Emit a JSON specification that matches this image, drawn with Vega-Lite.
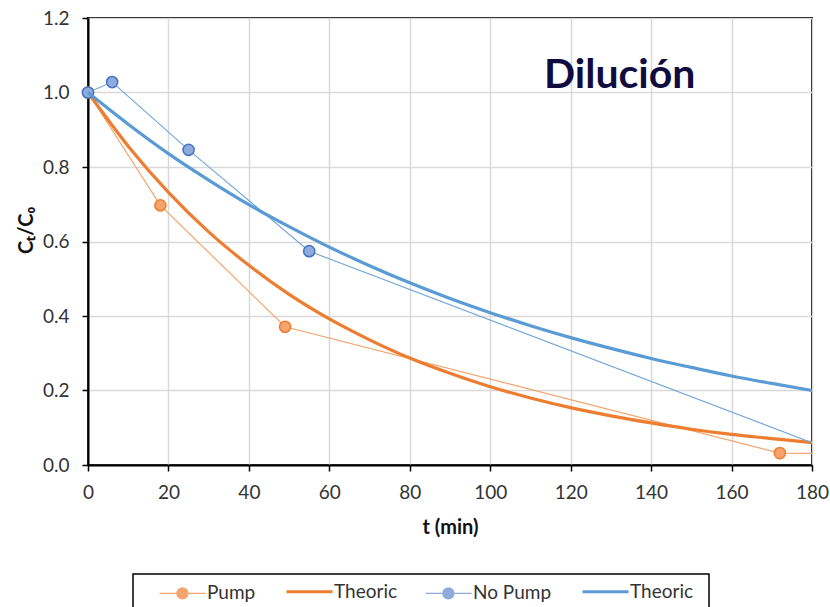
{
  "$schema": "https://vega.github.io/schema/vega-lite/v6.json",
  "width": 724,
  "height": 447,
  "autosize": {"type": "none"},
  "padding": {"left": 88, "top": 18, "right": 18, "bottom": 142},
  "background": "white",
  "title": {"text": "Dilución", "anchor": "start", "frame": "group", "dx": 456, "dy": 120, "baseline": "alphabetic", "font": "Lato", "fontSize": 41, "fontWeight": "bold", "color": "#100C40", "offset": 0},
  "config": {
    "view": {"stroke": "black", "strokeWidth": 2},
    "font": "Lato",
    "axis": {
      "domainColor": "black", "domainWidth": 2,
      "tickColor": "black", "tickWidth": 1.5, "tickSize": 6,
      "gridColor": "#D9D9D9", "gridWidth": 1.5,
      "labelFont": "Lato", "labelFontSize": 19, "labelColor": "#333333", "labelFlush": false,
      "titleFont": "Lato", "titleFontSize": 20, "titleFontWeight": "bold", "titleColor": "#111111"
    }
  },
  "datasets": {
    "exp": [
      {"series": "Pump", "t": 0, "c": 1.0},
      {"series": "Pump", "t": 18, "c": 0.697},
      {"series": "Pump", "t": 49, "c": 0.371},
      {"series": "Pump", "t": 172, "c": 0.032},
      {"series": "Pump", "t": 180, "c": 0.031},
      {"series": "No Pump", "t": 0, "c": 1.0},
      {"series": "No Pump", "t": 6, "c": 1.028},
      {"series": "No Pump", "t": 25, "c": 0.846},
      {"series": "No Pump", "t": 55, "c": 0.574},
      {"series": "No Pump", "t": 180, "c": 0.06}
    ],
    "theory": [
      {"series": "Theoric (Pump)", "t": 0, "c": 1.0},
      {"series": "Theoric (Pump)", "t": 10, "c": 0.856},
      {"series": "Theoric (Pump)", "t": 20, "c": 0.732},
      {"series": "Theoric (Pump)", "t": 30, "c": 0.626},
      {"series": "Theoric (Pump)", "t": 40, "c": 0.536},
      {"series": "Theoric (Pump)", "t": 50, "c": 0.458},
      {"series": "Theoric (Pump)", "t": 60, "c": 0.392},
      {"series": "Theoric (Pump)", "t": 70, "c": 0.336},
      {"series": "Theoric (Pump)", "t": 80, "c": 0.287},
      {"series": "Theoric (Pump)", "t": 90, "c": 0.246},
      {"series": "Theoric (Pump)", "t": 100, "c": 0.210},
      {"series": "Theoric (Pump)", "t": 110, "c": 0.180},
      {"series": "Theoric (Pump)", "t": 120, "c": 0.154},
      {"series": "Theoric (Pump)", "t": 130, "c": 0.132},
      {"series": "Theoric (Pump)", "t": 140, "c": 0.113},
      {"series": "Theoric (Pump)", "t": 150, "c": 0.096},
      {"series": "Theoric (Pump)", "t": 160, "c": 0.082},
      {"series": "Theoric (Pump)", "t": 170, "c": 0.071},
      {"series": "Theoric (Pump)", "t": 180, "c": 0.060},
      {"series": "Theoric (No Pump)", "t": 0, "c": 1.0},
      {"series": "Theoric (No Pump)", "t": 10, "c": 0.915},
      {"series": "Theoric (No Pump)", "t": 20, "c": 0.836},
      {"series": "Theoric (No Pump)", "t": 30, "c": 0.765},
      {"series": "Theoric (No Pump)", "t": 40, "c": 0.699},
      {"series": "Theoric (No Pump)", "t": 50, "c": 0.640},
      {"series": "Theoric (No Pump)", "t": 60, "c": 0.585},
      {"series": "Theoric (No Pump)", "t": 70, "c": 0.535},
      {"series": "Theoric (No Pump)", "t": 80, "c": 0.489},
      {"series": "Theoric (No Pump)", "t": 90, "c": 0.447},
      {"series": "Theoric (No Pump)", "t": 100, "c": 0.409},
      {"series": "Theoric (No Pump)", "t": 110, "c": 0.374},
      {"series": "Theoric (No Pump)", "t": 120, "c": 0.342},
      {"series": "Theoric (No Pump)", "t": 130, "c": 0.313},
      {"series": "Theoric (No Pump)", "t": 140, "c": 0.286},
      {"series": "Theoric (No Pump)", "t": 150, "c": 0.262},
      {"series": "Theoric (No Pump)", "t": 160, "c": 0.239},
      {"series": "Theoric (No Pump)", "t": 170, "c": 0.219},
      {"series": "Theoric (No Pump)", "t": 180, "c": 0.200}
    ]
  },
  "encoding": {
    "x": {"field": "t", "type": "quantitative", "scale": {"domain": [0, 180], "nice": false},
      "axis": {"values": [0, 20, 40, 60, 80, 100, 120, 140, 160, 180], "title": "t (min)", "labelPadding": 12, "titlePadding": 15}},
    "y": {"field": "c", "type": "quantitative", "scale": {"domain": [0, 1.2], "nice": false},
      "axis": {"values": [0, 0.2, 0.4, 0.6, 0.8, 1.0, 1.2], "format": ".1f", "title": "Cₜ/C₀", "labelPadding": 13, "titlePadding": 6, "titleY": 212}}
  },
  "layer": [
    {"data": {"name": "exp"}, "transform": [{"filter": "datum.series == 'Pump'"}],
     "mark": {"type": "line", "color": "#F4A46C", "strokeWidth": 1.2}, "encoding": {}},
    {"data": {"name": "exp"}, "transform": [{"filter": "datum.series == 'Pump' && datum.t < 180"}],
     "mark": {"type": "circle", "fill": "#F4A46C", "stroke": "#ED7D31", "strokeWidth": 1.5, "size": 125, "opacity": 1}, "encoding": {}},
    {"data": {"name": "theory"}, "transform": [{"filter": "datum.series == 'Theoric (Pump)'"}],
     "mark": {"type": "line", "color": "#ED7D31", "strokeWidth": 3.2, "interpolate": "monotone"}, "encoding": {}},
    {"data": {"name": "exp"}, "transform": [{"filter": "datum.series == 'No Pump'"}],
     "mark": {"type": "line", "color": "#6FA6DA", "strokeWidth": 1.1}, "encoding": {}},
    {"data": {"name": "exp"}, "transform": [{"filter": "datum.series == 'No Pump' && datum.t < 180"}],
     "mark": {"type": "circle", "fill": "#8FAADC", "stroke": "#4472C4", "strokeWidth": 1.5, "size": 125, "opacity": 1}, "encoding": {}},
    {"data": {"name": "theory"}, "transform": [{"filter": "datum.series == 'Theoric (No Pump)'"}],
     "mark": {"type": "line", "strokeWidth": 3.2, "interpolate": "monotone"},
     "encoding": {
       "color": {"field": "series", "type": "nominal",
         "scale": {"domain": ["Pump", "Theoric (Pump)", "No Pump", "Theoric (No Pump)"], "range": ["#F4A46C", "#ED7D31", "#8FAADC", "#5B9BD5"]},
         "legend": {
           "orient": "none", "legendX": 45, "legendY": 556, "direction": "horizontal", "title": null,
           "strokeColor": "black", "fillColor": "white", "padding": 8,
           "labelFont": "Lato", "labelFontSize": 19, "labelColor": "#333333", "labelOffset": 47, "columnPadding": 4,
           "symbolSize": 484, "symbolType": "circle",
           "labelExpr": "datum.label == 'Pump' || datum.label == 'No Pump' ? datum.label : 'Theoric'",
           "encode": {
             "symbols": {"update": {
               "shape": {"signal": "datum.value == 'Pump' || datum.value == 'No Pump' ? 'M-1,-1M-1,1M0.82,0H2.4M3.4,0H5M2.4,0A0.5,0.5 0 1,0 3.4,0A0.5,0.5 0 1,0 2.4,0Z' : datum.value == 'Theoric (No Pump)' ? 'M-1,-1M-1,1M11,0M0.82,0H5' : 'M-1,-1M-1,1M0.82,0H5'"},
               "stroke": {"signal": "datum.value == 'Pump' ? '#EE8A4A' : datum.value == 'No Pump' ? '#5E8ED3' : datum.value == 'Theoric (Pump)' ? '#ED7D31' : '#5B9BD5'"},
               "fill": {"signal": "datum.value == 'Pump' ? '#F4A46C' : datum.value == 'No Pump' ? '#8FAADC' : 'transparent'"},
               "strokeWidth": {"signal": "datum.value == 'Pump' || datum.value == 'No Pump' ? 1.3 : 3"},
               "opacity": {"value": 1}
             }},
             "legend": {"update": {"strokeWidth": {"value": 1.5}}}
           }
         }}
     }}
  ]
}
